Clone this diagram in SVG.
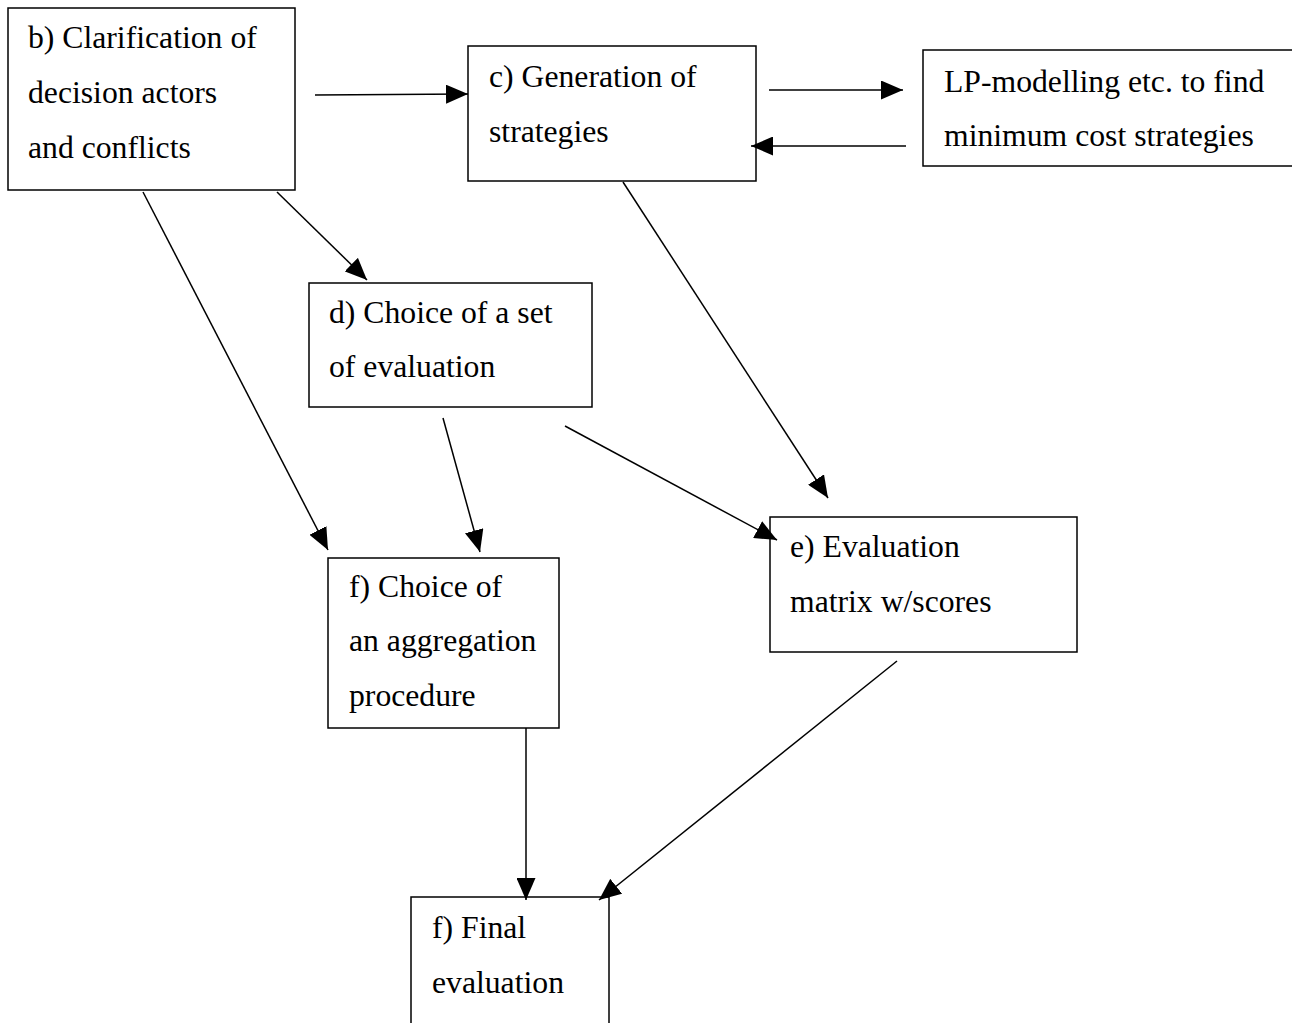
<svg xmlns="http://www.w3.org/2000/svg" width="1292" height="1023" viewBox="0 0 1292 1023">
<style>
.box{fill:#fff;stroke:#000;stroke-width:1.5}
.t{font-family:"Liberation Serif","Times New Roman",serif;font-size:31.7px;fill:#000}
.c line{stroke:#000;stroke-width:1.5;fill:none}
</style>
<defs>
<marker id="ah" markerUnits="userSpaceOnUse" markerWidth="22" markerHeight="19" refX="22" refY="9.5" orient="auto" viewBox="0 0 22 19">
<path d="M0,0 L22,9.5 L0,19 z" fill="#000"/>
</marker>
</defs>
<rect width="1292" height="1023" fill="#fff"/>
<g id="node-b">
<rect class="box" x="8" y="8" width="287" height="182"/>
<text class="t" x="28" y="48">b) Clarification of</text>
<text class="t" x="28" y="103">decision actors</text>
<text class="t" x="28" y="158">and conflicts</text>
</g>
<g id="node-c">
<rect class="box" x="468" y="46" width="288" height="135"/>
<text class="t" x="489" y="87">c) Generation of</text>
<text class="t" x="489" y="142">strategies</text>
</g>
<g id="node-lp">
<rect class="box" x="923" y="50" width="380" height="116"/>
<text class="t" x="944" y="92">LP-modelling etc. to find</text>
<text class="t" x="944" y="146">minimum cost strategies</text>
</g>
<g id="node-d">
<rect class="box" x="309" y="283" width="283" height="124"/>
<text class="t" x="329" y="323">d) Choice of a set</text>
<text class="t" x="329" y="377">of evaluation</text>
</g>
<g id="node-f1">
<rect class="box" x="328" y="558" width="231" height="170"/>
<text class="t" x="349" y="597">f) Choice of</text>
<text class="t" x="349" y="651">an aggregation</text>
<text class="t" x="349" y="706">procedure</text>
</g>
<g id="node-e">
<rect class="box" x="770" y="517" width="307" height="135"/>
<text class="t" x="790" y="557">e) Evaluation</text>
<text class="t" x="790" y="612">matrix w/scores</text>
</g>
<g id="node-final">
<rect class="box" x="411" y="897" width="198" height="160"/>
<text class="t" x="432" y="938">f) Final</text>
<text class="t" x="432" y="993">evaluation</text>
</g>
<g class="c" id="connectors">
<line x1="315" y1="95" x2="468" y2="94" marker-end="url(#ah)"/>
<line x1="769" y1="90" x2="903" y2="90" marker-end="url(#ah)"/>
<line x1="906" y1="146" x2="751" y2="146" marker-end="url(#ah)"/>
<line x1="277" y1="192" x2="367" y2="280" marker-end="url(#ah)"/>
<line x1="143" y1="192" x2="328" y2="550" marker-end="url(#ah)"/>
<line x1="443" y1="418" x2="480" y2="552" marker-end="url(#ah)"/>
<line x1="565" y1="426" x2="777" y2="540" marker-end="url(#ah)"/>
<line x1="623" y1="182" x2="828" y2="498" marker-end="url(#ah)"/>
<line x1="526" y1="728" x2="526" y2="900" marker-end="url(#ah)"/>
<line x1="897" y1="661" x2="599" y2="900" marker-end="url(#ah)"/>
</g>
</svg>
